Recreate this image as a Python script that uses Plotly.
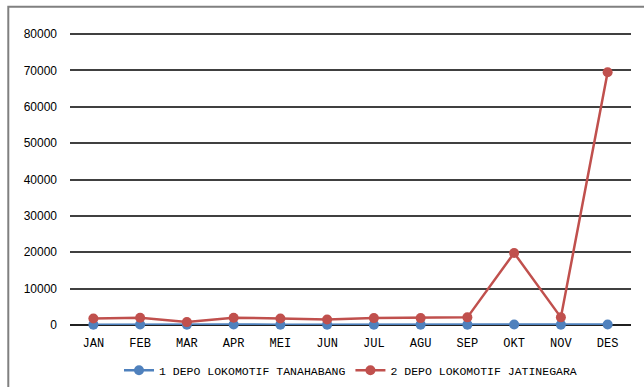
import plotly.graph_objects as go

months = ["JAN", "FEB", "MAR", "APR", "MEI", "JUN", "JUL", "AGU", "SEP", "OKT", "NOV", "DES"]
tanahabang = [100, 150, 100, 150, 100, 100, 100, 100, 100, 150, 100, 150]
jatinegara = [1800, 2000, 800, 2000, 1800, 1500, 1900, 1900, 2100, 19800, 2100, 69500]
y_ticks = [0, 10000, 20000, 30000, 40000, 50000, 60000, 70000, 80000]

series = [
    ("1 DEPO LOKOMOTIF TANAHABANG", tanahabang, "#4F81BD"),
    ("2 DEPO LOKOMOTIF JATINEGARA", jatinegara, "#C0504D"),
]

fig = go.Figure()
for name, vals, col in series:
    fig.add_trace(go.Scatter(
        x=months, y=vals, name=name, mode="lines+markers",
        line=dict(color=col, width=2.5),
        marker=dict(color=col, size=10),
        cliponaxis=False,
    ))

fig.update_layout(
    width=644, height=387,
    margin=dict(l=70, r=13, t=33, b=62, autoexpand=False),
    paper_bgcolor="white", plot_bgcolor="white",
    showlegend=True,
    legend=dict(orientation="h", x=0.5, xanchor="center", y=-0.155, yanchor="middle",
                font=dict(family="Liberation Mono", size=11.5, color="#000"),
                itemwidth=30, tracegroupgap=0),
    xaxis=dict(type="category", range=[-0.5, 11.5], showgrid=False, zeroline=False,
               showline=False, ticks="", ticklabelstandoff=9,
               tickfont=dict(family="Liberation Mono", size=12, color="#000")),
    yaxis=dict(range=[0, 80300], tickvals=y_ticks, ticktext=[str(v) for v in y_ticks],
               showgrid=True, gridcolor="#404040", gridwidth=1.5,
               zeroline=True, zerolinecolor="#202020", zerolinewidth=2,
               showline=False, ticks="", ticklabelstandoff=12,
               tickfont=dict(family="Liberation Sans", size=12, color="#000")),
    shapes=[dict(type="rect", xref="paper", yref="paper", x0=-0.11, x1=1.1, y0=-0.4, y1=1.09,
                 line=dict(color="#808080", width=2), layer="below")],
)

fig.write_html("out.html")
